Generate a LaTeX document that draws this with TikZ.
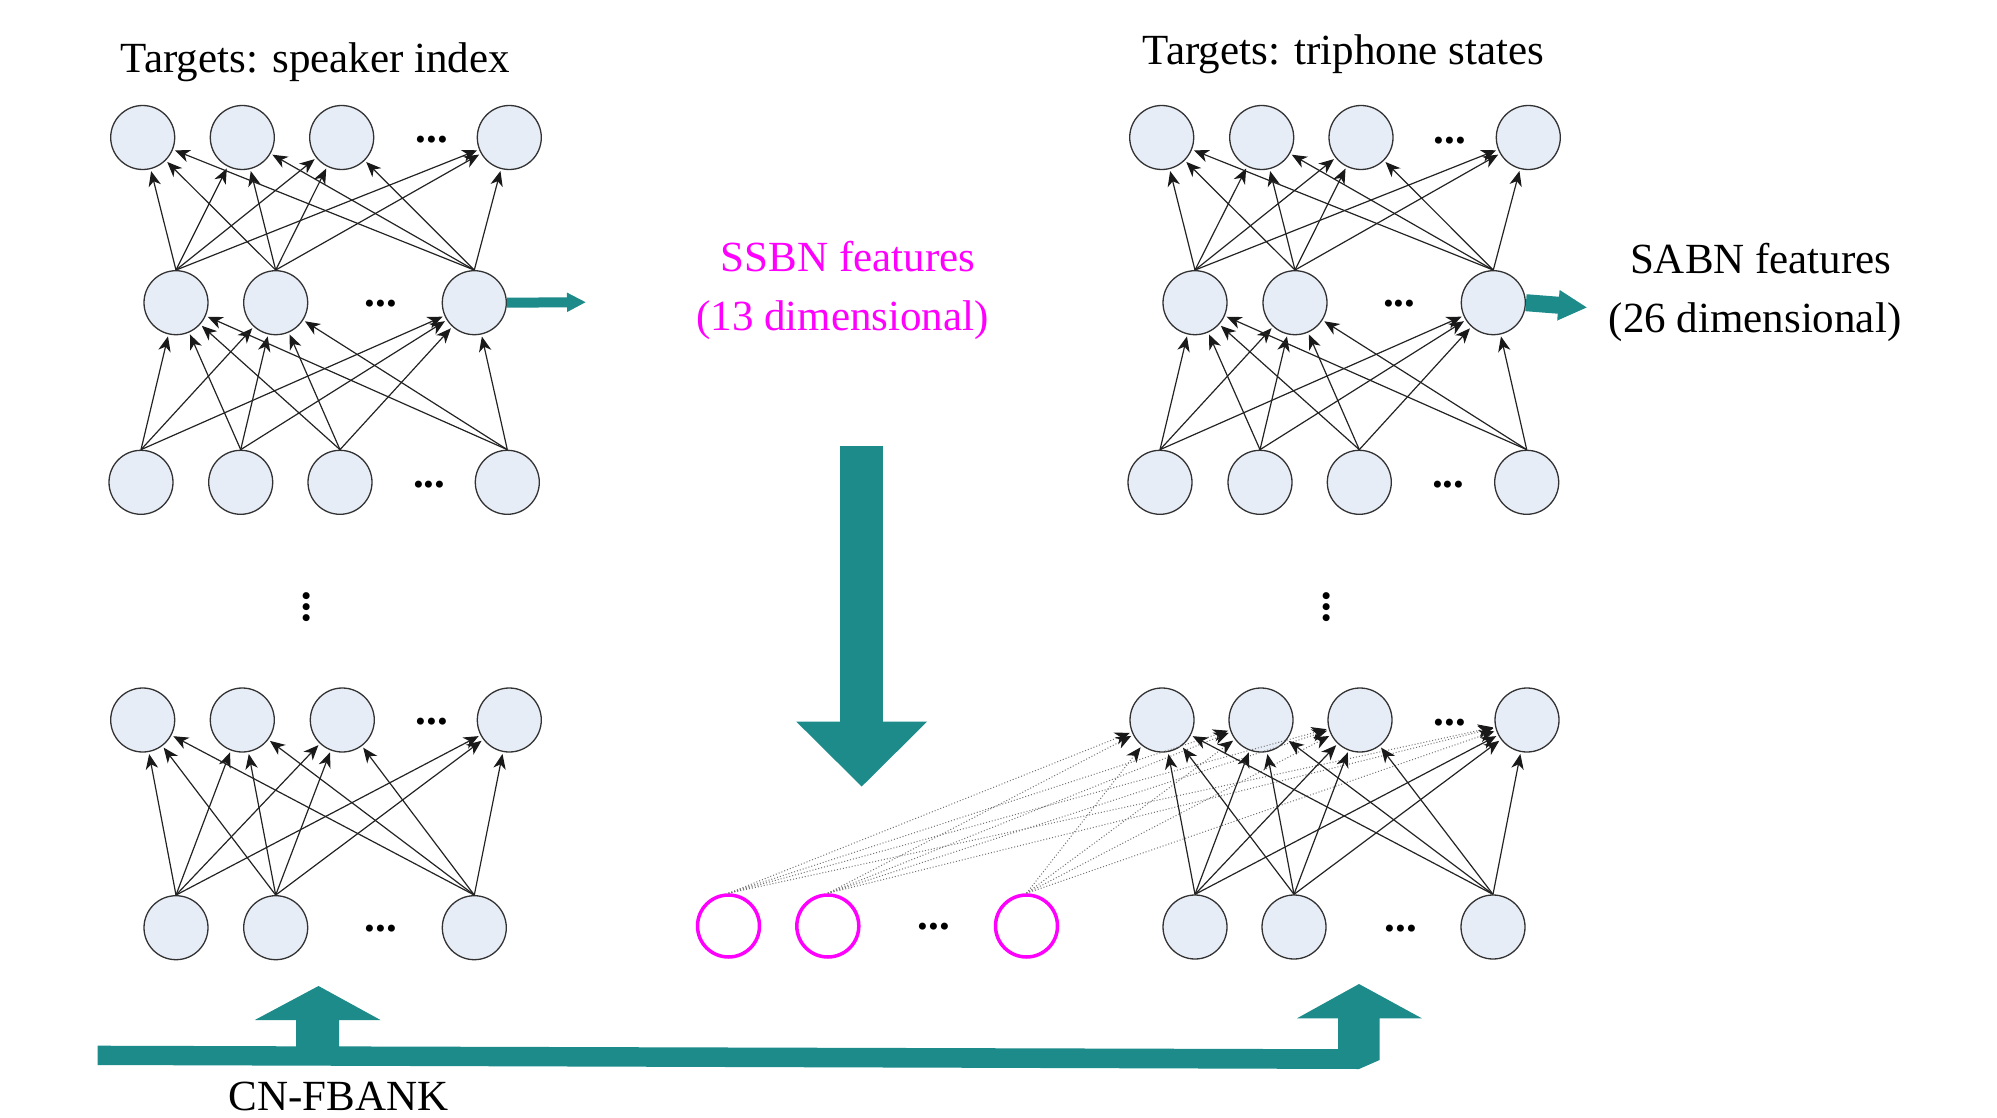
\documentclass[tikz,border=0pt]{standalone}
\usepackage{fontspec}
\setmainfont{Liberation Serif}
\usetikzlibrary{arrows.meta}
\definecolor{tealx}{RGB}{28,139,138}
\definecolor{nfill}{RGB}{231,237,247}
\definecolor{nborder}{RGB}{50,50,50}
\definecolor{edgec}{RGB}{35,35,35}
\definecolor{magx}{RGB}{255,0,255}
\tikzset{
  neuron/.style={circle, draw=nborder, fill=nfill, line width=1.3pt, minimum size=64pt, inner sep=0pt},
  pneuron/.style={circle, draw=magx, line width=3.5pt, minimum size=62pt, inner sep=0pt},
  conn/.style={draw=edgec, line width=1.2pt, -{Stealth[length=15pt,width=12.5pt,inset=4.5pt,color=black!90]}, shorten >=2pt},
  dconn/.style={draw=black!55, dotted, line width=1pt, -{Stealth[length=15pt,width=12.5pt,inset=4.5pt,color=black!90]}, shorten >=2pt},
  lbl/.style={font=\fontsize{43}{52}\selectfont, inner sep=0pt},
  hdots/.style={font=\fontsize{43}{43}\selectfont\bfseries, inner sep=0pt, anchor=base},
  vdotsx/.style={font=\fontsize{43}{43}\selectfont\bfseries, inner sep=0pt, rotate=90},
  fatarrow/.style={draw=tealx},
}
\begin{document}
\begin{tikzpicture}[x=1pt,y=-1pt]
\useasboundingbox (0,0) rectangle (1997,1118);

% ---------- top-left network ----------
\foreach \n/\x in {1/142.7,2/242.3,3/341.7,4/509.3} \node[neuron] (tlA\n) at (\x,137.5) {};
\foreach \n/\x in {1/176,2/275.7,3/474.3} \node[neuron] (tlB\n) at (\x,302.7) {};
\foreach \n/\x in {1/141,2/240.7,3/340,4/507.3} \node[neuron] (tlC\n) at (\x,482.3) {};
\node[hdots] (tlAd) at (431.7,143) {...};
\node[hdots] (tlBd) at (380.7,306.3) {...};
\node[hdots] (tlCd) at (429.3,487.3) {...};
\foreach \s in {1,2,3} \foreach \t in {1,2,3,4} \draw[conn] (tlB\s.north) -- (tlA\t);
\foreach \s in {1,2,3,4} \foreach \t in {1,2,3} \draw[conn] (tlC\s.north) -- (tlB\t);

% ---------- top-right network ----------
\foreach \n/\x in {1/1161.7,2/1261.7,3/1361,4/1528.3} \node[neuron] (trA\n) at (\x,137.5) {};
\foreach \n/\x in {1/1195,2/1295,3/1493.3} \node[neuron] (trB\n) at (\x,302.7) {};
\foreach \n/\x in {1/1160,2/1260,3/1359.3,4/1526.7} \node[neuron] (trC\n) at (\x,482.3) {};
\node[hdots] (trAd) at (1450,143.3) {...};
\node[hdots] (trBd) at (1399.3,306.3) {...};
\node[hdots] (trCd) at (1448.3,487.3) {...};
\foreach \s in {1,2,3} \foreach \t in {1,2,3,4} \draw[conn] (trB\s.north) -- (trA\t);
\foreach \s in {1,2,3,4} \foreach \t in {1,2,3} \draw[conn] (trC\s.north) -- (trB\t);

% vertical dots
\node[vdotsx] (vl) at (307,607) {...};
\node[vdotsx] (vr) at (1327,607) {...};

% ---------- bottom-left network ----------
\foreach \n/\x in {1/142.7,2/242.3,3/342.3,4/509.3} \node[neuron] (blA\n) at (\x,720) {};
\foreach \n/\x in {1/176,2/275.7,3/474.3} \node[neuron] (blB\n) at (\x,927.7) {};
\node[hdots] (blAd) at (431.7,724.6) {...};
\node[hdots] (blBd) at (380.7,931.3) {...};
\foreach \s in {1,2,3} \foreach \t in {1,2,3,4} \draw[conn] (blB\s.north) -- (blA\t);

% ---------- bottom-right network ----------
\foreach \n/\x in {1/1162,2/1261,3/1360,4/1527} \node[neuron] (brA\n) at (\x,720) {};
\foreach \n/\x in {1/1195,2/1294,3/1493} \node[neuron] (brB\n) at (\x,927) {};
\foreach \n/\x in {1/728.5,2/827.8,3/1026.5} \node[pneuron] (pB\n) at (\x,926) {};
\node[hdots] (brAd) at (1450,725) {...};
\node[hdots] (brBd) at (1401,931.6) {...};
\node[hdots] (pBd) at (934,929) {...};
\foreach \s in {1,2,3} \foreach \t in {1,2,3,4} \draw[dconn] (pB\s.north) -- (brA\t);
\foreach \s in {1,2,3} \foreach \t in {1,2,3,4} \draw[conn] (brB\s.north) -- (brA\t);

% ---------- labels ----------
\node[lbl, anchor=base west] (tgtL) at (120.7,73) {Targets: speaker index};
\node[lbl, anchor=base west] (tgtR) at (1142.7,65) {Targets: triphone states};
\node[lbl, anchor=base, text=magx] (ssbn1) at (848,271.7) {SSBN features};
\node[lbl, anchor=base, text=magx] (ssbn2) at (842.5,330) {(13 dimensional)};
\node[lbl, anchor=base] (sabn1) at (1760.8,273.3) {SABN features};
\node[lbl, anchor=base] (sabn2) at (1755,332) {(26 dimensional)};
\node[lbl, anchor=base west] (cnfb) at (228.3,1110.5) {CN-FBANK};

% ---------- teal arrows ----------
\coordinate (ssbnTip) at (586,302.2);
\draw[fatarrow, line width=10pt, -{Triangle[length=19pt,width=18pt,color=tealx]}] (tlB3.east) -- (ssbnTip);
\coordinate (sabnTip) at (1587.3,307.5);
\draw[fatarrow, line width=17pt, -{Triangle[length=29pt,width=28.4pt,color=tealx]}] (trB3.east) -- (sabnTip);
\coordinate (downTop) at (861.7,445.7);
\coordinate (downTip) at (861.7,786.7);
\draw[fatarrow, line width=43.3pt, -{Triangle[length=65pt,width=126.7pt,color=tealx]}] (downTop) -- (downTip);

\fill[tealx] (97.7,1045.7) -- (296,1046.3) -- (296,1020) -- (254.8,1020) -- (318.5,986)
  -- (380.5,1020) -- (339,1020) -- (339,1046.4) -- (1338,1049.2) -- (1338,1018.3)
  -- (1297,1018.3) -- (1359,984) -- (1421.8,1018.3) -- (1379.6,1018.3) -- (1379.6,1060)
  -- (1359,1069) -- (97.7,1065) -- cycle;
\end{tikzpicture}
\end{document}
